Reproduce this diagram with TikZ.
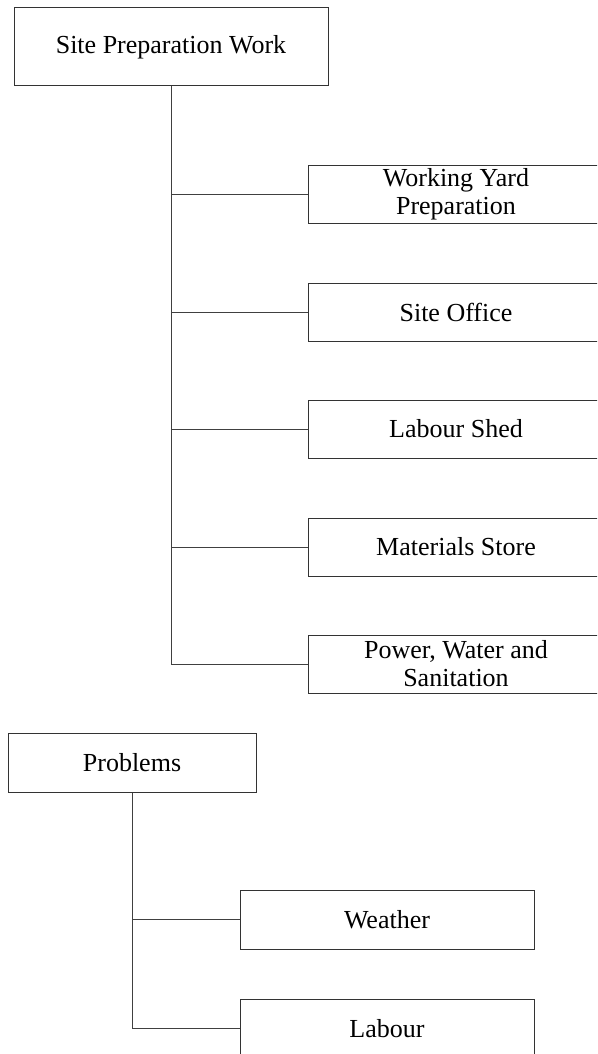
\documentclass[tikz,border=0pt]{standalone}
\usepackage{fontspec}
\setmainfont{Liberation Serif}
\begin{document}
\begin{tikzpicture}[x=1pt,y=-1pt,
  box/.style={draw=black!80, line width=1pt, rectangle, inner sep=0pt,
    align=center, font=\fontsize{26}{28}\selectfont},
  parent/.style={box},
  child/.style={box, minimum width=296pt, minimum height=58pt},
  link/.style={draw=black!75, line width=1pt}]
\useasboundingbox (0,0) rectangle (597,1054);
\clip (0,0) rectangle (597,1054);

% first breakdown: site preparation
\node[parent, minimum width=314pt, minimum height=78pt] (spw) at (171,47) {Site Preparation Work};
\node[child] (wy) at (456,194) {Working Yard\\Preparation};
\node[child] (so) at (456,312) {Site Office};
\node[child] (ls) at (456,429) {Labour Shed};
\node[child] (ms) at (456,547) {Materials Store};
\node[child] (pws) at (456,664) {Power, Water and\\Sanitation};

\draw[link] (spw.south) |- (pws.west);
\foreach \c in {wy,so,ls,ms}
  \draw[link] (\c.west -| spw.south) -- (\c.west);

% second breakdown: problems
\node[parent, minimum width=248pt, minimum height=59pt] (pr) at (132,762.5) {Problems};
\node[child, minimum width=294pt, minimum height=59pt] (we) at (387,919.5) {Weather};
\node[child, minimum width=294pt, minimum height=59pt] (lb) at (387,1028.5) {Labour};

\draw[link] (pr.south) |- (lb.west);
\draw[link] (we.west -| pr.south) -- (we.west);
\end{tikzpicture}
\end{document}
